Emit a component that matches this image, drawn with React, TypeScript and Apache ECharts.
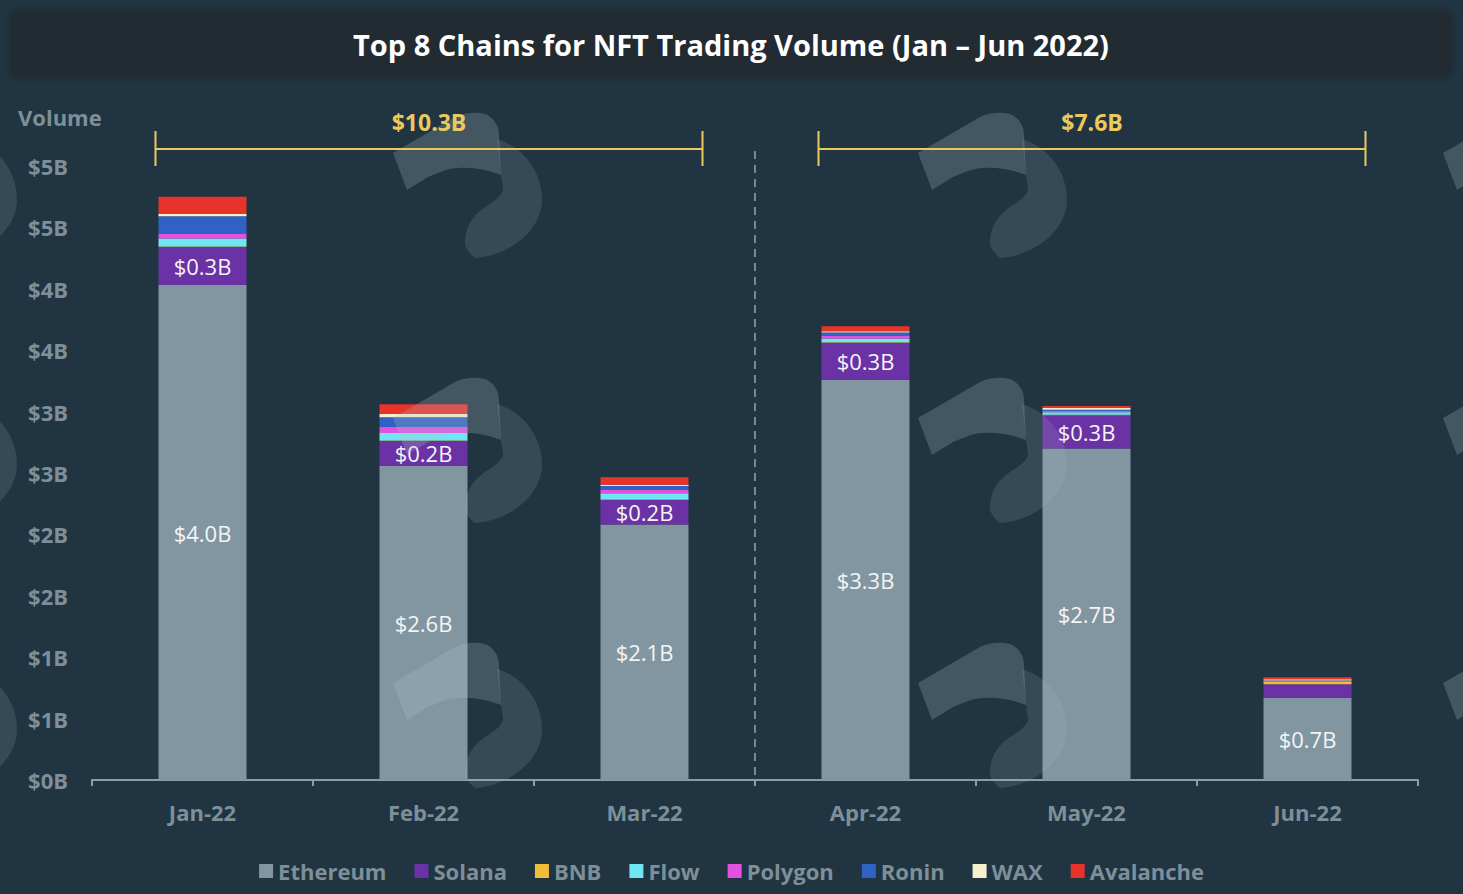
import React, { useEffect, useRef } from "react";
import * as echarts from "echarts";

const categories = ["Jan-22", "Feb-22", "Mar-22", "Apr-22", "May-22", "Jun-22"];
const seriesNames = ["Ethereum", "Solana", "BNB", "Flow", "Polygon", "Ronin", "WAX", "Avalanche"];
const ethereum = [4.03, 2.56, 2.08, 3.26, 2.7, 0.67];
const solana = [0.31, 0.2, 0.2, 0.3, 0.27, 0.11];
const bnb = [0.005, 0.005, 0.005, 0.005, 0.005, 0.02];
const flow = [0.065, 0.06, 0.05, 0.03, 0.02, 0.005];
const polygon = [0.04, 0.05, 0.03, 0.025, 0.01, 0.003];
const ronin = [0.14, 0.08, 0.03, 0.025, 0.01, 0.003];
const wax = [0.02, 0.025, 0.01, 0.01, 0.015, 0.01];
const avalanche = [0.14, 0.08, 0.06, 0.04, 0.015, 0.015];
const seriesColors = ["#8296a2", "#6a32a5", "#f2be3a", "#6fe6f2", "#e052df", "#2f62c4", "#f6f0cc", "#e8332b"];
const periodTotals = ["$10.3B", "$7.6B"];
const periodRanges = [
  ["Jan-22", "Mar-22"],
  ["Apr-22", "Jun-22"],
];
const yTicks = [0, 0.5, 1, 1.5, 2, 2.5, 3, 3.5, 4, 4.5, 5];

const FONT = "'Open Sans', 'Noto Sans', sans-serif";
const GRAY = "#7e8f99";
const GOLD = "#ecc95c";

const BAND_D =
  "M0,40 L62,4 C72,-1 84,-1 92,1 C100,4 106,12 106,22 L108,62 C95,57 80,54 66,55 C55,55 45,60 35,64 L14,77 Z";
const CURVE_D =
  "M104,26 C130,34 149,58 149,87 C149,115 120,142 82,145 C76,140 72,135 72,130 C72,112 82,100 95,92 C104,87 110,80 110,76 L108,62 Z";
echarts.graphic.registerShape("wmBand", echarts.graphic.extendPath(BAND_D, {}));
echarts.graphic.registerShape("wmCurve", echarts.graphic.extendPath(CURVE_D, {}));

export default function App() {
  const ref = useRef<HTMLDivElement>(null);

  useEffect(() => {
    document.body.style.margin = "0";
    const chart = echarts.init(ref.current!, null, { renderer: "svg" });
    const values = [ethereum, solana, bnb, flow, polygon, ronin, wax, avalanche];
    const series: any[] = seriesNames.map((name, i) => ({
      name,
      type: "bar",
      stack: "total",
      barWidth: 88,
      data: values[i],
      itemStyle: { color: seriesColors[i] },
      label:
        i < 2
          ? {
              show: true,
              position: "inside",
              color: "#f4f4f4",
              fontFamily: FONT,
              fontSize: 22,
              formatter: (p: any) => (p.value >= 0.15 ? "$" + p.value.toFixed(1) + "B" : ""),
            }
          : { show: false },
    }));

    const option: any = {
      animation: false,
      backgroundColor: "#203541",
      textStyle: { fontFamily: FONT },
      grid: { left: 92, right: 45, top: 166, bottom: 114, containLabel: false },
      legend: {
        bottom: 7,
        left: "center",
        icon: "rect",
        itemWidth: 14,
        itemHeight: 14,
        itemGap: 28,
        data: seriesNames,
        textStyle: { color: GRAY, fontSize: 22, fontWeight: "bold", fontFamily: FONT },
      },
      xAxis: {
        type: "category",
        data: categories,
        axisLine: { lineStyle: { color: "#8a9ca6", width: 2 } },
        axisTick: { show: true, alignWithLabel: false, length: 6, lineStyle: { color: "#8a9ca6", width: 2 } },
        axisLabel: { color: GRAY, fontSize: 22, fontWeight: "bold", fontFamily: FONT, margin: 21 },
      },
      yAxis: {
        type: "value",
        min: 0,
        max: 5,
        interval: 0.5,
        splitLine: { show: false },
        axisLine: { show: false },
        axisTick: { show: false },
        axisLabel: {
          color: GRAY,
          fontSize: 22,
          fontWeight: "bold",
          fontFamily: FONT,
          margin: 24,
          formatter: (v: number) => (yTicks.indexOf(v) >= 0 ? "$" + Math.round(v) + "B" : ""),
        },
      },
      series,
    };
    chart.setOption(option);

    const cx = (c: string) => chart.convertToPixel({ xAxisIndex: 0 }, c) as number;
    const half = (cx(categories[1]) - cx(categories[0])) / 2;
    const graphics: any[] = [
      {
        type: "rect",
        shape: { x: 10, y: 10, width: 1442, height: 68, r: 10 },
        style: { fill: "#212a31", shadowBlur: 8, shadowColor: "rgba(0,0,0,0.25)" },
        z: 0,
      },
      {
        type: "text",
        x: 731,
        y: 44,
        style: {
          text: "Top 8 Chains for NFT Trading Volume (Jan \u2013 Jun 2022)",
          fill: "#ffffff",
          font: "bold 29px " + FONT,
          align: "center",
          verticalAlign: "middle",
        },
        z: 1,
      },
      {
        type: "text",
        x: 18,
        y: 117,
        style: { text: "Volume", fill: GRAY, font: "bold 22px " + FONT, align: "left", verticalAlign: "middle" },
      },
      {
        type: "line",
        shape: { x1: cx("Mar-22") + half, y1: 151, x2: cx("Mar-22") + half, y2: 780 },
        style: { stroke: "#728b98", lineWidth: 2, lineDash: [8, 6] },
      },
    ];
    // watermark logos
    const wmCols = [-132, 393, 918, 1443];
    const wmRows = [113, 378, 643];
    wmCols.forEach((x) =>
      wmRows.forEach((y) => {
        graphics.push(
          { type: "wmBand", x, y, silent: true, z: 50, style: { fill: "rgba(175,195,205,0.24)" } },
          { type: "wmCurve", x, y, silent: true, z: 50, style: { fill: "rgba(175,195,205,0.15)" } }
        );
      })
    );
    periodRanges.forEach((r, i) => {
      const x1 = cx(r[0]) - 47;
      const x2 = cx(r[1]) + 58;
      graphics.push(
        { type: "line", z: 60, shape: { x1, y1: 149, x2, y2: 149 }, style: { stroke: GOLD, lineWidth: 2 } },
        { type: "line", z: 60, shape: { x1, y1: 131, x2: x1, y2: 166 }, style: { stroke: GOLD, lineWidth: 2 } },
        { type: "line", z: 60, shape: { x1: x2, y1: 131, x2, y2: 166 }, style: { stroke: GOLD, lineWidth: 2 } },
        {
          type: "text",
          z: 60,
          x: (x1 + x2) / 2,
          y: 122,
          style: { text: periodTotals[i], fill: GOLD, font: "bold 23px " + FONT, align: "center", verticalAlign: "middle" },
        }
      );
    });
    chart.setOption({ graphic: graphics });

    return () => chart.dispose();
  }, []);

  return <div ref={ref} style={{ position: "absolute", left: 0, top: 0, width: 1463, height: 894 }} />;
}
